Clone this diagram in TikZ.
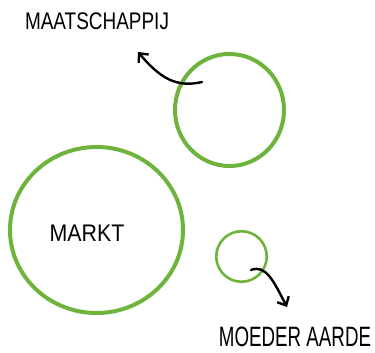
\documentclass[tikz,border=0pt]{standalone}
\usepackage{fontspec}
\setmainfont{Liberation Sans}
\usetikzlibrary{arrows.meta,shapes.geometric}
\definecolor{leaf}{RGB}{110,180,60}
\tikzset{
  ring/.style={ellipse, draw=leaf, inner sep=0pt},
  pointer/.style={draw=black, line width=2.4pt, line cap=round,
    -{Straight Barb[length=7pt,width=13pt,line width=2.4pt]}},
  label/.style={inner sep=0pt, text=black}
}
\begin{document}
\begin{tikzpicture}[x=1pt,y=-1pt]
\useasboundingbox (0,0) rectangle (375,353);
\node[ring, line width=4pt, minimum width=109pt, minimum height=112pt] (maat) at (229.5,110) {};
\node[ring, line width=4pt, minimum width=173pt, minimum height=166pt] (markt) at (96.5,230) {};
\node[ring, line width=2.6pt, minimum width=50.5pt, minimum height=50.5pt] (aarde) at (241.5,256.5) {};
\node[label, anchor=base] (tmarkt) at (87,241) {\scalebox{0.89}[1]{\fontsize{24}{24}\selectfont MARKT}};
\node[label, anchor=base] (tmaat) at (97,30) {\scalebox{0.79}[1]{\fontsize{24}{24}\selectfont MAATSCHAPPIJ}};
\node[label, anchor=base] (taarde) at (295,346) {\scalebox{0.67}[1]{\fontsize{28}{28}\selectfont MOEDER AARDE}};
\coordinate (s1) at (202,82);
\coordinate (e1) at (138,52);
\coordinate (s2) at (251,270);
\coordinate (e2) at (287,307);
\draw[pointer] (s1) .. controls (176,88) and (160,78) .. (e1);
\draw[pointer] (s2) .. controls (266,264) and (274,282) .. (e2);
\end{tikzpicture}
\end{document}
